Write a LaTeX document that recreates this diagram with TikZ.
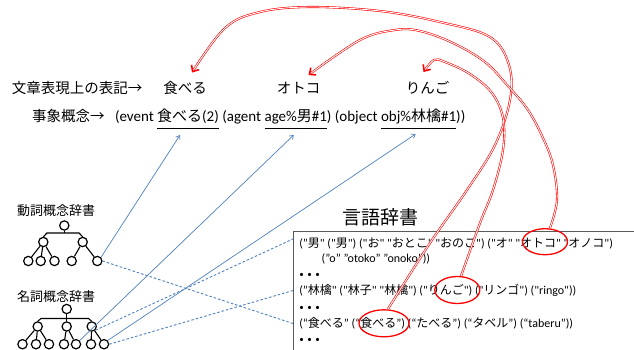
\documentclass[tikz,border=0pt]{standalone}
\usepackage{fontspec}
\setmainfont{Carlito}
\newfontfamily\lat{Carlito}
\newfontfamily\jp{Noto Sans CJK JP}
\usetikzlibrary{arrows.meta,shapes.geometric}
\definecolor{myblue}{RGB}{79,129,189}
\definecolor{boxgray}{RGB}{90,90,90}
\XeTeXinterchartokenstate=1
\newXeTeXintercharclass\cjkcls
\makeatletter
\def\setcjkrange#1#2{\count@=#1\relax
  \loop\XeTeXcharclass\count@=\cjkcls\relax
  \ifnum\count@<#2\relax\advance\count@ by 1\relax\repeat}
\makeatother
\setcjkrange{"2192}{"2192}
\setcjkrange{"3000}{"30FF}
\setcjkrange{"4E00}{"9FFF}
\setcjkrange{"FF00}{"FFEF}
\XeTeXcharclass"201C=0
\XeTeXcharclass"201D=0
\XeTeXinterchartoks 0 \cjkcls = {\jp}
\XeTeXinterchartoks 4095 \cjkcls = {\jp}
\XeTeXinterchartoks \cjkcls 0 = {\lat}
\XeTeXinterchartoks \cjkcls 4095 = {\lat}
\newcommand\mydots{{\fontsize{9}{9}\selectfont •\hspace{3.5pt}•\hspace{3.5pt}•}}
\begin{document}
\begin{tikzpicture}[x=1pt,y=-1pt,
  txt/.style={inner sep=0pt, outer sep=0pt},
  big/.style={txt, font=\fontsize{14.5}{17}\selectfont},
  expr/.style={txt, anchor=base west, font=\fontsize{15}{17}\selectfont},
  lab/.style={txt, font=\fontsize{13}{15}\selectfont},
  dict/.style={txt, inner xsep=6pt, anchor=base west, font=\fontsize{12}{14}\selectfont},
  titlestyle/.style={txt, font=\fontsize{19}{22}\selectfont},
  cnode/.style={circle, draw, line width=1.2pt, minimum size=9.3pt, inner sep=0pt},
  tree/.style={line width=1.1pt},
  bl/.style={draw=myblue, line width=0.7pt, -{Straight Barb[length=3.5pt,width=5pt]}},
  bd/.style={draw=myblue, line width=0.9pt, dash pattern=on 2.5pt off 2pt},
  rc/.style={draw=red, double=white, double distance=0.9pt, line width=0.6pt, -{Straight Barb[length=5pt,width=9pt,line width=1.6pt]}},
  ell/.style={ellipse, draw=red, line width=1.3pt, inner sep=0pt},
  ul/.style={line width=0.8pt}
]
\useasboundingbox[fill=white] (0,0) rectangle (634,349);

% row 1
\node[big, anchor=base west] (lbl1) at (12,93.5) {文章表現上の表記→};
\node[big, anchor=base] (taberu) at (185,93.5) {食べる};
\node[big, anchor=base] (otoko) at (298.5,93.5) {オトコ};
\node[big, anchor=base] (ringo) at (427.5,93.5) {りんご};

% row 2
\node[big, anchor=base west] (lbl2) at (32,121) {事象概念→};
\node[expr] (e1) at (115,121) {(event\ \null};
\node[expr] (e2) at (e1.base east) {食べる(2)};
\node[expr] (e3) at (e2.base east) {\ (agent\ \null};
\node[expr] (e4) at (e3.base east) {age\%男\#1};
\node[expr] (e5) at (e4.base east) {)\ (object\ \null};
\node[expr] (e6) at (e5.base east) {obj\%林檎\#1};
\node[expr] (e7) at (e6.base east) {))};
\foreach \n in {e2,e4,e6}
  \draw[ul] ([yshift=-7pt]\n.base west) -- ([yshift=-7pt]\n.base east);

% labels
\node[lab, anchor=west] (vlab) at (17,211) {動詞概念辞書};
\node[lab, anchor=west] (nlab) at (17,296.7) {名詞概念辞書};

% verb tree
\node[cnode] (vr) at (64.3,225.5) {};
\node[cnode] (vc1) at (43.3,242) {};
\node[cnode] (vc2) at (82.7,242) {};
\node[cnode] (vl1) at (28.3,261) {};
\node[cnode] (vl2) at (40.7,261) {};
\node[cnode] (vl3) at (54.5,261) {};
\node[cnode] (vl4) at (71.7,261) {};
\node[cnode] (vl5) at (97.3,261) {};
\coordinate (vbarL) at (47,233);
\coordinate (vbarR) at (79,233);
\draw[tree] (vc1.north) -- (vbarL) -- (vbarR) -- (vc2.north);
\draw[tree] (vr.south) -- (vr.south |- vbarL);
\draw[tree] (vc1) -- (vl1) (vc1) -- (vl2) (vc1) -- (vl3) (vc2) -- (vl4) (vc2) -- (vl5);

% noun tree
\node[cnode] (nr) at (66.7,309) {};
\node[cnode] (nm1) at (37.7,326.5) {};
\node[cnode] (nm2) at (66.7,326.5) {};
\node[cnode] (nm3) at (91.7,326.5) {};
\node[cnode] (nl1) at (22.5,344.2) {};
\node[cnode] (nl2) at (36,344.2) {};
\node[cnode] (nl3) at (49,344.2) {};
\node[cnode] (nl4) at (64,344.2) {};
\node[cnode] (nl5) at (76,344.2) {};
\node[cnode] (nl6) at (91,344.2) {};
\node[cnode] (nl7) at (104,344.2) {};
\coordinate (nbarL) at (41,318.5);
\coordinate (nbarR) at (88.5,318.5);
\draw[tree] (nm1.north) -- (nbarL) -- (nbarR) -- (nm3.north);
\draw[tree] (nr.south) -- (nm2.north);
\draw[tree] (nm1) -- (nl1) (nm1) -- (nl2) (nm1) -- (nl3) (nm2) -- (nl4) (nm2) -- (nl5) (nm3) -- (nl6) (nm3) -- (nl7);

% dictionary
\node[titlestyle] (dtitle) at (380.5,217.5) {言語辞書};
\draw[line width=1.3pt, draw=boxgray] (293.3,360) |- (640,231.7);
\node[dict] (d1) at (293.3,247.8) {("男" ("男") ("お" "おとこ" "おのこ") ("オ" "オトコ" "オノコ")};
\node[dict] (d2) at (315.7,262.2) {("o" "otoko" "onoko"))};
\node[dict] (d3) at (293.3,277.8) {\mydots};
\node[dict] (d4) at (293.3,294.5) {("林檎" ("林子" "林檎") ("りんご") ("リンゴ") ("ringo"))};
\node[dict] (d5) at (293.3,310.5) {\mydots};
\node[dict] (d6) at (293.3,327.8) {(“食べる” (“食べる”) (“たべる”) (“タベル”) (“taberu”))};
\node[dict] (d7) at (293.3,342.8) {\mydots};

% blue connectors
\draw[bl] (vl5.north east) -- ([xshift=-8pt,yshift=-14pt]e2.base);
\draw[bl] (nl5.north east) -- ([xshift=-2pt,yshift=-14pt]e4.base);
\draw[bl] (nl7.north east) -- ([xshift=-3pt,yshift=-13pt]e6.base);
\draw[bd] (vl5.east) -- (d6.west);
\draw[bd] (nm3.south east) -- ([yshift=5pt]d1.west);
\draw[bd] (nl7.east) -- (d4.west);

% red ellipses
\node[ell, minimum width=45pt, minimum height=26pt] (eO) at (545,241.7) {};
\node[ell, minimum width=45pt, minimum height=27pt] (eR) at (457.3,290) {};
\node[ell, minimum width=50pt, minimum height=27pt] (eT) at (384,323.3) {};

% red curves
\draw[rc] plot[smooth, tension=0.6] coordinates {(eT.75) (430,243) (467,190) (495,145) (510,100) (509,65) (490,37) (440,22) (380,11) (310,7) (260,12) (225,28) ([xshift=7pt,yshift=21pt]taberu.base)};
\draw[rc] plot[smooth, tension=0.6] coordinates {(eO.70) (557,200) (553,165) (543,138) (528,110) (508,86) (485,62) (453,43) (420,31) (395,30) (360,40) ([xshift=10pt,yshift=18.5pt]otoko.base)};
\draw[rc] plot[smooth, tension=0.6] coordinates {(eR.75) (480,223) (493,190) (503,150) (503,118) (492,93) (470,74) (445,62) (434,60) ([xshift=-4pt,yshift=21.5pt]ringo.base)};
\end{tikzpicture}
\end{document}
